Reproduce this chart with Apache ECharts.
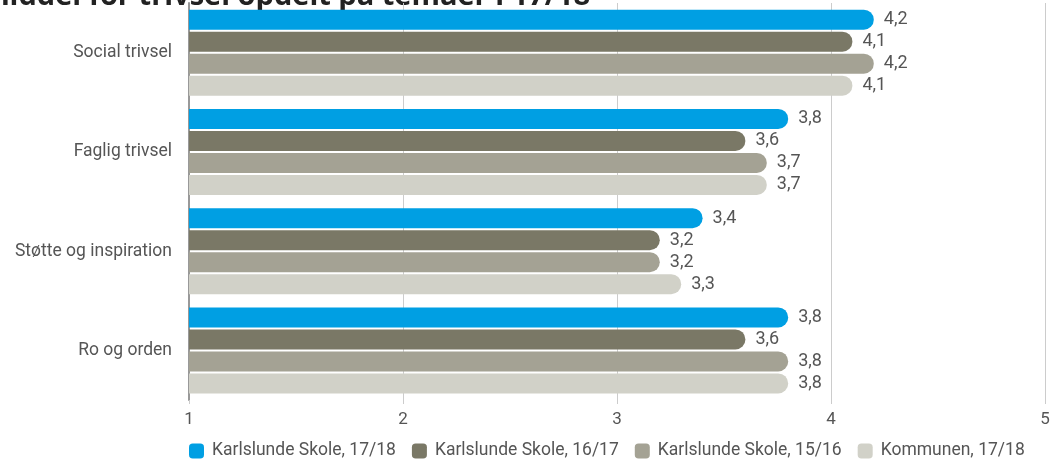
<!DOCTYPE html>
<html>
<head>
<meta charset="utf-8">
<script src="https://cdn.jsdelivr.net/npm/echarts@6/dist/echarts.min.js"></script>
<style>
  html, body { margin: 0; padding: 0; background: #fff; }
  #main { width: 1053px; height: 459px; }
</style>
</head>
<body>
<div id="main"></div>
<script>
// temaer (top til bund)
var categories = ["Social trivsel", "Faglig trivsel", "Støtte og inspiration", "Ro og orden"];
var seriesNames = ["Karlslunde Skole, 17/18", "Karlslunde Skole, 16/17", "Karlslunde Skole, 15/16", "Kommunen, 17/18"];
var colors = ["#009fe3", "#7a7866", "#a4a294", "#d1d1c8"];

var skole1718 = [4.2, 3.8, 3.4, 3.8];
var skole1617 = [4.1, 3.6, 3.2, 3.6];
var skole1516 = [4.2, 3.7, 3.2, 3.8];
var kommune1718 = [4.1, 3.7, 3.3, 3.8];
var values = [skole1718, skole1617, skole1516, kommune1718];

var myChart = echarts.init(document.getElementById("main"));

var option = {
  animation: false,
  textStyle: { fontFamily: "Roboto" },
  graphic: [
    {
      type: "text",
      right: 463,
      top: -18,
      style: {
        text: "Samlet middel for trivsel opdelt på temaer i 17/18",
        font: "bold 29px 'Open Sans'",
        fill: "#222",
      },
    },
  ],
  legend: {
    left: 184,
    top: 437,
    width: 869,
    padding: [5, 0, 5, 5],
    itemWidth: 15,
    itemHeight: 15,
    itemGap: 16,
    icon: "roundRect",
    data: seriesNames,
    textStyle: { fontSize: 17.5, color: "#555", padding: [0, 0, 0, 3] },
  },
  grid: { left: 189, right: 8, top: 3, bottom: 59, containLabel: false },
  xAxis: {
    type: "value",
    min: 1,
    max: 5,
    interval: 1,
    axisLine: { show: false },
    axisTick: { show: true, length: 4, lineStyle: { color: "#ccc" } },
    axisLabel: { fontSize: 17, color: "#555", margin: 11 },
    splitLine: { show: true, lineStyle: { color: "#ccc", width: 1 } },
  },
  yAxis: {
    type: "category",
    inverse: true,
    data: categories,
    axisLine: { show: true, lineStyle: { color: "#999", width: 2 } },
    axisTick: { show: false },
    axisLabel: { fontSize: 17.5, color: "#555", margin: 17 },
  },
  series: seriesNames.map(function (name, i) {
    return {
      name: name,
      type: "bar",
      barWidth: 20,
      barGap: "10%",
      data: values[i],
      itemStyle: { color: colors[i], borderRadius: [0, 10, 10, 0] },
      label: {
        show: true,
        position: "right",
        distance: 10,
        fontSize: 18,
        color: "#555",
        formatter: function (p) {
          return String(p.value).replace(".", ",");
        },
      },
    };
  }),
};

option && myChart.setOption(option);
</script>
</body>
</html>
